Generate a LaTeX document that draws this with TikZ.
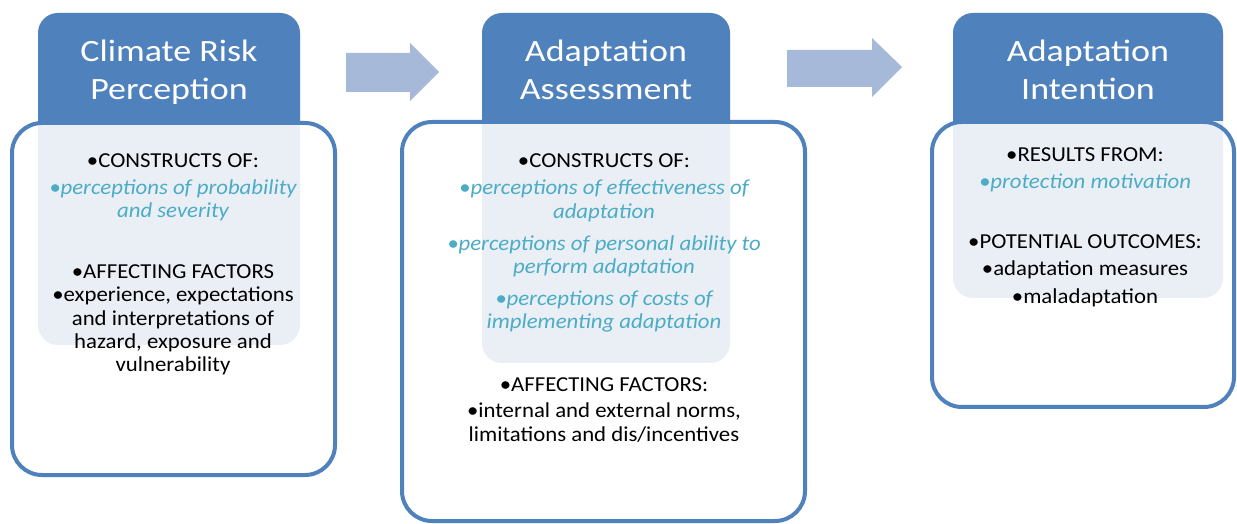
\documentclass[tikz,border=0pt]{standalone}
\usepackage{fontspec}
\setmainfont{Carlito}[FakeStretch=1.07]
\newfontfamily\titlefont{Carlito}[FakeStretch=1.16]
\definecolor{hdr}{RGB}{79,129,189}
\definecolor{lite}{RGB}{234,239,246}
\definecolor{arw}{RGB}{167,185,216}
\definecolor{teal}{RGB}{75,172,198}
\tikzset{
  titletxt/.style={text=white,font=\titlefont\fontsize{31bp}{38bp}\selectfont,anchor=base,inner sep=0pt},
  bodytxt/.style={text=black,font=\fontsize{21.3bp}{25bp}\selectfont,anchor=base,inner sep=0pt},
  ittxt/.style={text=teal,font=\fontsize{21.3bp}{25bp}\selectfont\itshape,anchor=base,inner sep=0pt},
  outline/.style={draw=hdr,line width=4bp,rounded corners=30bp},
  arrowshape/.style={fill=arw,draw=none}
}
\newcommand{\panelhead}[4]{% x1 x2 top lightbottom
  \fill[lite,rounded corners=20bp] (#1,#3) rectangle (#2,#4);
  \begin{scope}
    \clip (#1-5,#3-5) rectangle (#2+5,121);
    \fill[hdr,rounded corners=20bp] (#1,#3) rectangle (#2,#4);
  \end{scope}
}
\begin{document}
\begin{tikzpicture}[x=1bp,y=-1bp]
\useasboundingbox (0,0) rectangle (1237,524);
\fill[white] (0,0) rectangle (1237,524);

% arrows
\fill[arrowshape] (346,53) -- (410,53) -- (410,43) -- (439,72) -- (410,101) -- (410,92) -- (346,92) -- cycle;
\fill[arrowshape] (787,50) -- (872,50) -- (872,38) -- (902,67) -- (872,97) -- (872,87) -- (787,87) -- cycle;

% panel 1
\panelhead{38}{300}{13}{345}
\draw[outline] (12,123) rectangle (335,475);
\node[titletxt] (t1a) at (169,62) {Climate Risk};
\node[titletxt] (t1b) at (169,100) {Perception};
\node[bodytxt] (a1) at (173,168) {•CONSTRUCTS OF:};
\node[ittxt] (a2) at (173,195) {•perceptions of probability};
\node[ittxt] (a3) at (173,218) {and severity};
\node[bodytxt] (a4) at (173,279) {•AFFECTING FACTORS};
\node[bodytxt] (a5) at (173,302) {•experience, expectations};
\node[bodytxt] (a6) at (173,326) {and interpretations of};
\node[bodytxt] (a7) at (173,349) {hazard, exposure and};
\node[bodytxt] (a8) at (173,372) {vulnerability};

% panel 2
\panelhead{482}{730}{13}{363}
\draw[outline] (402,122) rectangle (805,521);
\node[titletxt] (t2a) at (606,62) {Adaptation};
\node[titletxt] (t2b) at (606,100) {Assessment};
\node[bodytxt] (b1) at (604,168) {•CONSTRUCTS OF:};
\node[ittxt] (b2) at (604,195) {•perceptions of effectiveness of};
\node[ittxt] (b3) at (604,219) {adaptation};
\node[ittxt] (b4) at (604,251) {•perceptions of personal ability to};
\node[ittxt] (b5) at (604,274) {perform adaptation};
\node[ittxt] (b6) at (604,306) {•perceptions of costs of};
\node[ittxt] (b7) at (604,329) {implementing adaptation};
\node[bodytxt] (b8) at (604,391) {•AFFECTING FACTORS:};
\node[bodytxt] (b9) at (604,417) {•internal and external norms,};
\node[bodytxt] (b10) at (604,441) {limitations and dis/incentives};

% panel 3
\panelhead{953}{1223}{13}{298}
\draw[outline] (932,122) rectangle (1234,407);
\node[titletxt] (t3a) at (1088,62) {Adaptation};
\node[titletxt] (t3b) at (1088,100) {Intention};
\node[bodytxt] (c1) at (1085,162) {•RESULTS FROM:};
\node[ittxt] (c2) at (1085,189) {•protection motivation};
\node[bodytxt] (c3) at (1085,249) {•POTENTIAL OUTCOMES:};
\node[bodytxt] (c4) at (1085,276) {•adaptation measures};
\node[bodytxt] (c5) at (1085,304) {•maladaptation};
\end{tikzpicture}
\end{document}
